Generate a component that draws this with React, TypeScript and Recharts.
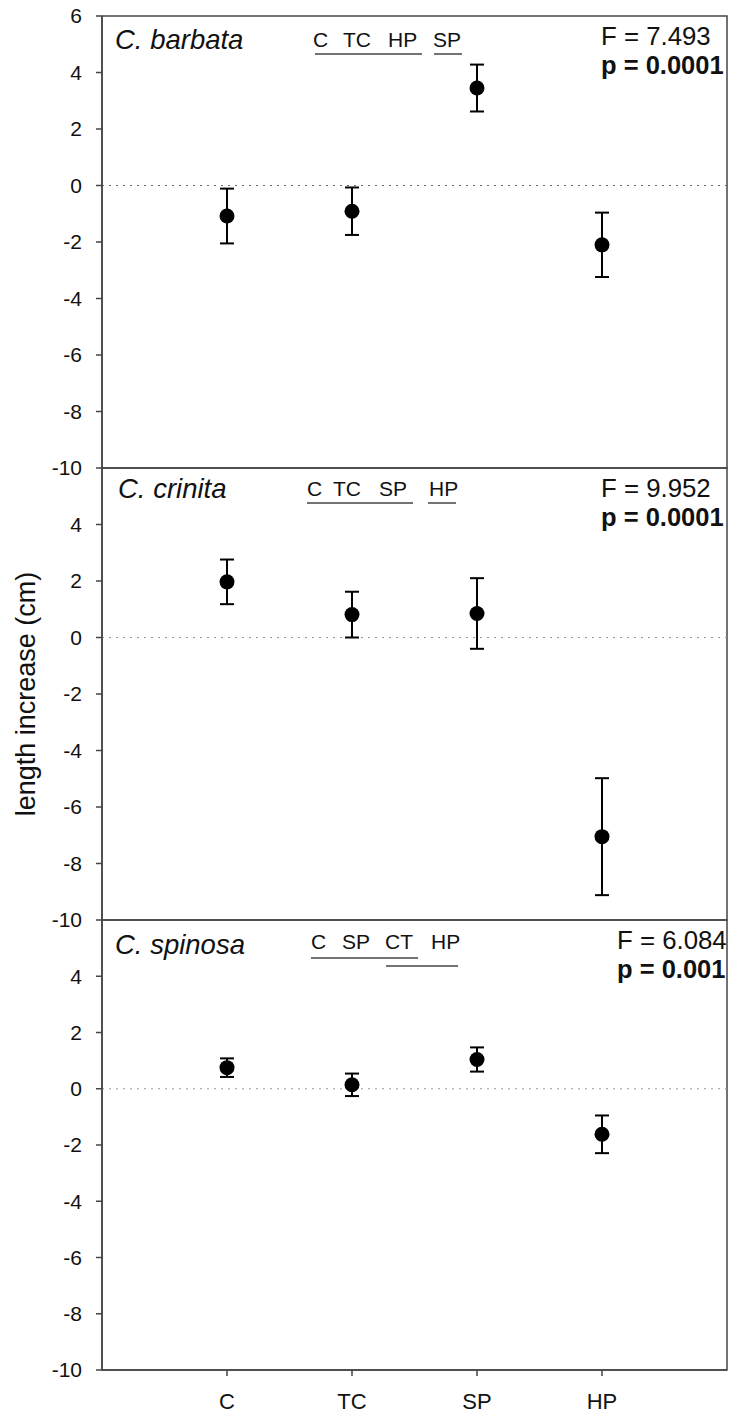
import React from 'react';
import {
  ScatterChart,
  Scatter,
  XAxis,
  YAxis,
  ErrorBar,
  ReferenceLine,
  ReferenceArea,
} from 'recharts';

// ---- data ----
const categories = ['C', 'TC', 'SP', 'HP'];
const categoryX = [1, 2, 3, 4];
const yTicksTop = [-10, -8, -6, -4, -2, 0, 2, 4, 6];
const yTicksLower = [-10, -8, -6, -4, -2, 0, 2, 4];

const barbataMean = [-1.08, -0.91, 3.45, -2.1];
const barbataSE = [0.97, 0.84, 0.83, 1.14];
const crinitaMean = [1.97, 0.81, 0.85, -7.05];
const crinitaSE = [0.79, 0.81, 1.25, 2.07];
const spinosaMean = [0.75, 0.14, 1.04, -1.62];
const spinosaSE = [0.33, 0.4, 0.43, 0.67];

const speciesNames = ['C. barbata', 'C. crinita', 'C. spinosa'];
const fValues = ['F = 7.493', 'F = 9.952', 'F = 6.084'];
const pValues = ['p = 0.0001', 'p = 0.0001', 'p = 0.001'];
const barbataGroups = ['C', 'TC', 'HP', 'SP'];
const crinitaGroups = ['C', 'TC', 'SP', 'HP'];
const spinosaGroups = ['C', 'SP', 'CT', 'HP'];
const yTitle = 'length increase (cm)';

const build = (mean: number[], se: number[]) =>
  categoryX.map((x, i) => ({ x, y: mean[i], err: se[i] }));

const FONT = '"Liberation Sans", Arial, Helvetica, sans-serif';
const AXIS = '#454545';
const W = 729;

type Line = { x1: number; x2: number; dy: number };
type NotesProps = {
  top: number;
  name: string;
  nameX: number;
  nameDy: number;
  groups: string[];
  groupX: number[];
  groupDy: number;
  lines: Line[];
  f: string;
  p: string;
  statX: number;
};

function PanelNotes(props: NotesProps) {
  const { top, name, nameX, nameDy, groups, groupX, groupDy, lines, f, p, statX } = props;
  return (
    <g fontFamily={FONT}>
      <text x={nameX} y={top + nameDy} fontSize={27.5} fontStyle="italic" fill="#111">
        {name}
      </text>
      {groups.map((g, i) => (
        <text key={g + i} x={groupX[i]} y={top + groupDy} fontSize={21} fill="#111">
          {g}
        </text>
      ))}
      {lines.map((l, i) => (
        <line
          key={i}
          x1={l.x1}
          x2={l.x2}
          y1={top + l.dy}
          y2={top + l.dy}
          stroke="#444"
          strokeWidth={1.5}
        />
      ))}
      <text x={statX} y={top + 29} fontSize={25.8} fill="#111">
        {f}
      </text>
      <text x={statX} y={top + 58} fontSize={25.5} fontWeight="bold" fill="#111">
        {p}
      </text>
    </g>
  );
}

const dot = (props: any) => <circle cx={props.cx} cy={props.cy} r={7.5} fill="#000" />;

type PanelProps = {
  chartTop: number;
  height: number;
  margin: { top: number; right: number; bottom: number; left: number };
  data: { x: number; y: number; err: number }[];
  ticks: number[];
  showX: boolean;
  withTitle?: boolean;
  zeroColor: string;
  notes: NotesProps;
};

function Panel(p: PanelProps) {
  return (
    <div style={{ position: 'absolute', left: 0, top: p.chartTop }}>
      <ScatterChart width={W} height={p.height} margin={p.margin}>
        <XAxis
          type="number"
          dataKey="x"
          domain={[0, 5]}
          ticks={categoryX}
          tickFormatter={(v: number) => categories[v - 1]}
          hide={!p.showX}
          height={40}
          tickSize={6}
          tickMargin={17}
          axisLine={{ stroke: AXIS, strokeWidth: 1.5 }}
          tickLine={{ stroke: AXIS, strokeWidth: 1.5 }}
          tick={{ fill: '#111', fontSize: 22, fontFamily: FONT }}
          allowDataOverflow
        />
        <YAxis
          type="number"
          dataKey="y"
          domain={[-10, 6]}
          ticks={p.ticks}
          interval={0}
          width={102}
          tickSize={6}
          tickMargin={14}
          axisLine={{ stroke: AXIS, strokeWidth: 1.5 }}
          tickLine={{ stroke: AXIS, strokeWidth: 1.5 }}
          tick={{ fill: '#111', fontSize: 21, fontFamily: FONT }}
          allowDataOverflow
          label={
            p.withTitle
              ? {
                  content: (lp: any) => {
                    const vb = lp.viewBox || {};
                    const cy = (vb.y || 0) + (vb.height || 0) / 2;
                    return (
                      <text
                        x={26}
                        y={cy}
                        transform={`rotate(-90, 26, ${cy})`}
                        textAnchor="middle"
                        dominantBaseline="central"
                        fontSize={27}
                        fontFamily={FONT}
                        fill="#111"
                      >
                        {yTitle}
                      </text>
                    );
                  },
                }
              : undefined
          }
        />
        <ReferenceArea
          x1={0}
          x2={5}
          y1={-10}
          y2={6}
          fill="none"
          fillOpacity={0}
          stroke={AXIS}
          strokeWidth={1.5}
          ifOverflow="visible"
        />
        <ReferenceLine y={0} stroke={p.zeroColor} strokeWidth={1.2} strokeDasharray="2 5" />
        <Scatter data={p.data} shape={dot} isAnimationActive={false}>
          <ErrorBar dataKey="err" direction="y" width={7} stroke="#000" strokeWidth={2} />
        </Scatter>
        <PanelNotes {...p.notes} />
      </ScatterChart>
    </div>
  );
}

export default function App() {
  return (
    <div
      style={{
        position: 'absolute',
        left: 0,
        top: 0,
        width: W,
        height: 1416,
        background: '#fff',
        fontFamily: FONT,
      }}
    >
      <Panel
        chartTop={0}
        height={480}
        margin={{ top: 16, right: 2, bottom: 12, left: 0 }}
        data={build(barbataMean, barbataSE)}
        ticks={yTicksTop}
        showX={false}
        zeroColor="#666"
        notes={{
          top: 16,
          name: speciesNames[0],
          nameX: 115,
          nameDy: 33,
          groups: barbataGroups,
          groupX: [313, 343, 388, 433],
          groupDy: 31,
          lines: [
            { x1: 315, x2: 422, dy: 38 },
            { x1: 434, x2: 462, dy: 38 },
          ],
          f: fValues[0],
          p: pValues[0],
          statX: 601,
        }}
      />
      <Panel
        chartTop={456}
        height={476}
        margin={{ top: 12, right: 2, bottom: 12, left: 0 }}
        data={build(crinitaMean, crinitaSE)}
        ticks={yTicksLower}
        showX={false}
        withTitle
        zeroColor="#999"
        notes={{
          top: 12,
          name: speciesNames[1],
          nameX: 118,
          nameDy: 30,
          groups: crinitaGroups,
          groupX: [307, 333, 379, 429],
          groupDy: 28,
          lines: [
            { x1: 307, x2: 413, dy: 35 },
            { x1: 428, x2: 456, dy: 35 },
          ],
          f: fValues[1],
          p: pValues[1],
          statX: 601,
        }}
      />
      <Panel
        chartTop={908}
        height={508}
        margin={{ top: 12, right: 2, bottom: 6, left: 0 }}
        data={build(spinosaMean, spinosaSE)}
        ticks={yTicksLower}
        showX
        zeroColor="#999"
        notes={{
          top: 12,
          name: speciesNames[2],
          nameX: 115,
          nameDy: 34,
          groups: spinosaGroups,
          groupX: [311, 342, 385, 431],
          groupDy: 29,
          lines: [
            { x1: 311, x2: 418, dy: 38 },
            { x1: 386, x2: 458, dy: 46 },
          ],
          f: fValues[2],
          p: pValues[2],
          statX: 617,
        }}
      />
    </div>
  );
}
